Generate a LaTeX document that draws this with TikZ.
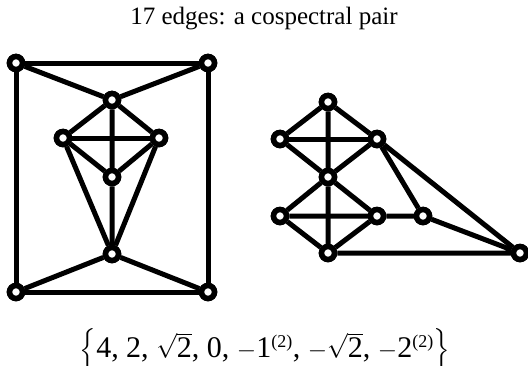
\documentclass[tikz,border=0pt]{standalone}
\usepackage{amsmath}
\usepackage{fontspec}
\setmainfont{Liberation Serif}

\tikzset{
  vert/.style = {circle, draw, fill=white, line width=5.5pt, inner sep=0pt, minimum size=13pt},
  edge/.style = {line width=5pt}
}
\newcommand{\sqtwo}{$\sqrt{\hbox{2}}$}
\newcommand{\mult}{$^{\hbox{\fontsize{18}{20}\selectfont(2)}}$}

\begin{document}
\begin{tikzpicture}[x=1pt,y=-1pt]
                    \useasboundingbox (0,0) rectangle (528,365);
                    \node (title) at (264,19) {\fontsize{25}{30}\selectfont 17 edges: a cospectral pair};
                    % left graph
                    \node[vert] (tl) at (16,63) {};
                    \node[vert] (tr) at (208,63) {};
                    \node[vert] (bl) at (16,292) {};
                    \node[vert] (br) at (208,292) {};
                    \node[vert] (t) at (112,100) {};
                    \node[vert] (l) at (63,138) {};
                    \node[vert] (r) at (159,138) {};
                    \node[vert] (c) at (112,177) {};
                    \node[vert] (b) at (112,254) {};
                    \draw[edge] (tl) -- (tr) -- (br) -- (bl) -- (tl);
                    \draw[edge] (tl) -- (t) -- (tr);
                    \draw[edge] (bl) -- (b) -- (br);
                    \draw[edge] (t) -- (l) -- (c) -- (r) -- (t) -- (c) -- (b);
                    \draw[edge] (l) -- (r);
                    \draw[edge] (l) -- (b) -- (r);
                    % right graph
                    \node[vert] (a) at (328,102) {};
                    \node[vert] (p) at (280,139) {};
                    \node[vert] (q) at (377,139) {};
                    \node[vert] (m) at (328,177) {};
                    \node[vert] (u) at (280,216) {};
                    \node[vert] (v) at (377,216) {};
                    \node[vert] (g) at (423,216) {};
                    \node[vert] (h) at (328,253) {};
                    \node[vert] (z) at (520,253) {};
                    \draw[edge] (a) -- (p) -- (m) -- (q) -- (a) -- (m) -- (h);
                    \draw[edge] (p) -- (q);
                    \draw[edge] (m) -- (u) -- (h) -- (v) -- (m);
                    \draw[edge] (u) -- (v) -- (g) -- (z) -- (h);
                    \draw[edge] (q) -- (g);
                    \draw[edge] (q) -- (z);
                    % redraw the vertices on top
                    \foreach \n in {tl,tr,bl,br,t,l,r,c,b,a,p,q,m,u,v,g,h,z}
                      \node[vert] at (\n) {};
                    \node[anchor=base] (spec) at (265,357) {\fontsize{30}{34}\selectfont $\Bigl\{$4, 2, \sqtwo, 0, $-$1\mult, $-$\sqtwo, $-$2\mult$\Bigr\}$};
                \end{tikzpicture}
\end{document}
